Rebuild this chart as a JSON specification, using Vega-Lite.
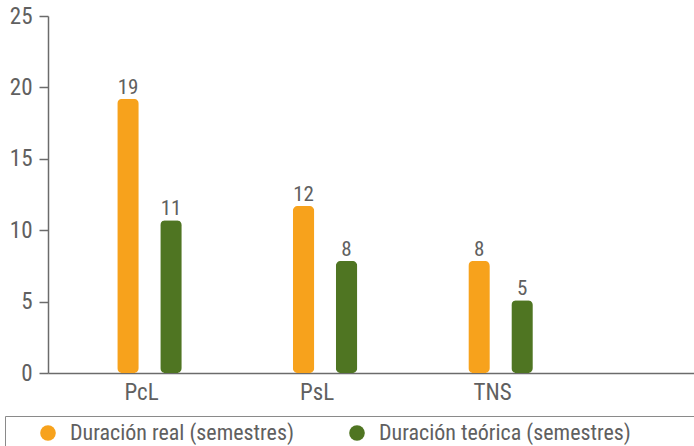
{
  "$schema": "https://vega.github.io/schema/vega-lite/v6.json",
  "width": 646,
  "height": 357,
  "autosize": {"type": "none"},
  "padding": {"left": 48, "top": 16, "right": 0, "bottom": 73},
  "background": "white",
  "config": {
    "view": {"stroke": null},
    "font": "Roboto Condensed, Liberation Sans Narrow, DejaVu Sans Condensed, Roboto"
  },
  "data": {
    "values": [
      {"nivel": "PcL", "serie": "Duración real (semestres)", "valor": 19.2},
      {"nivel": "PcL", "serie": "Duración teórica (semestres)", "valor": 10.7},
      {"nivel": "PsL", "serie": "Duración real (semestres)", "valor": 11.7},
      {"nivel": "PsL", "serie": "Duración teórica (semestres)", "valor": 7.85},
      {"nivel": "TNS", "serie": "Duración real (semestres)", "valor": 7.85},
      {"nivel": "TNS", "serie": "Duración teórica (semestres)", "valor": 5.1}
    ]
  },
  "encoding": {
    "x": {
      "field": "nivel",
      "type": "nominal",
      "sort": ["PcL", "PsL", "TNS"],
      "scale": {"paddingInner": 0.51, "paddingOuter": 0.595, "align": 0.28},
      "axis": {
        "title": null,
        "labelAngle": 0,
        "ticks": false,
        "domainColor": "#6b6b6b",
        "domainWidth": 1.5,
        "labelFont": "Roboto Condensed, Liberation Sans Narrow, DejaVu Sans Condensed, Roboto",
        "labelFontSize": 23,
        "labelFontWeight": 400,
        "labelColor": "#606060",
        "labelPadding": 8,
        "labelOffset": -8
      }
    },
    "xOffset": {
      "field": "serie",
      "type": "nominal",
      "sort": ["Duración real (semestres)", "Duración teórica (semestres)"],
      "scale": {"paddingInner": 0.5, "paddingOuter": 0.25}
    },
    "y": {
      "field": "valor",
      "type": "quantitative",
      "scale": {"domain": [0, 25], "nice": false},
      "axis": {
        "title": null,
        "values": [0, 5, 10, 15, 20, 25],
        "grid": false,
        "domainColor": "#6b6b6b",
        "domainWidth": 1.5,
        "tickColor": "#6b6b6b",
        "tickWidth": 1.5,
        "tickSize": 9,
        "labelPadding": 7,
        "labelFont": "Roboto Condensed, Liberation Sans Narrow, DejaVu Sans Condensed, Roboto",
        "labelFontSize": 23,
        "labelFontWeight": 400,
        "labelColor": "#606060"
      }
    }
  },
  "layer": [
    {
      "mark": {"type": "bar", "cornerRadius": 5},
      "encoding": {
        "color": {
          "field": "serie",
          "type": "nominal",
          "sort": ["Duración real (semestres)", "Duración teórica (semestres)"],
          "scale": {"range": ["#F7A21C", "#4F7522"]},
          "legend": {
            "title": "\u2003\u2003\u2003",
            "titleOrient": "right",
            "titleFontSize": 30,
            "titlePadding": 90,
            "orient": "none",
            "legendX": -43,
            "legendY": 400,
            "direction": "horizontal",
            "columns": 2,
            "gridAlign": "each",
            "symbolType": "circle",
            "symbolSize": 243,
            "symbolStrokeWidth": 0,
            "symbolOffset": 26,
            "labelOffset": 11,
            "columnPadding": 26,
            "padding": 6,
            "strokeColor": "#8a8a8a",
            "labelFont": "Roboto Condensed, Liberation Sans Narrow, DejaVu Sans Condensed, Roboto",
            "labelFontSize": 22,
            "labelFontWeight": 400,
            "labelColor": "#606060",
            "labelLimit": 400
          }
        }
      }
    },
    {
      "mark": {"type": "text", "baseline": "alphabetic", "dy": -5, "fontSize": 21, "fontWeight": 400, "color": "#606060", "font": "Roboto Condensed, Liberation Sans Narrow, DejaVu Sans Condensed, Roboto"},
      "encoding": {
        "text": {"field": "valor", "type": "quantitative", "format": ".0f"}
      }
    }
  ]
}
